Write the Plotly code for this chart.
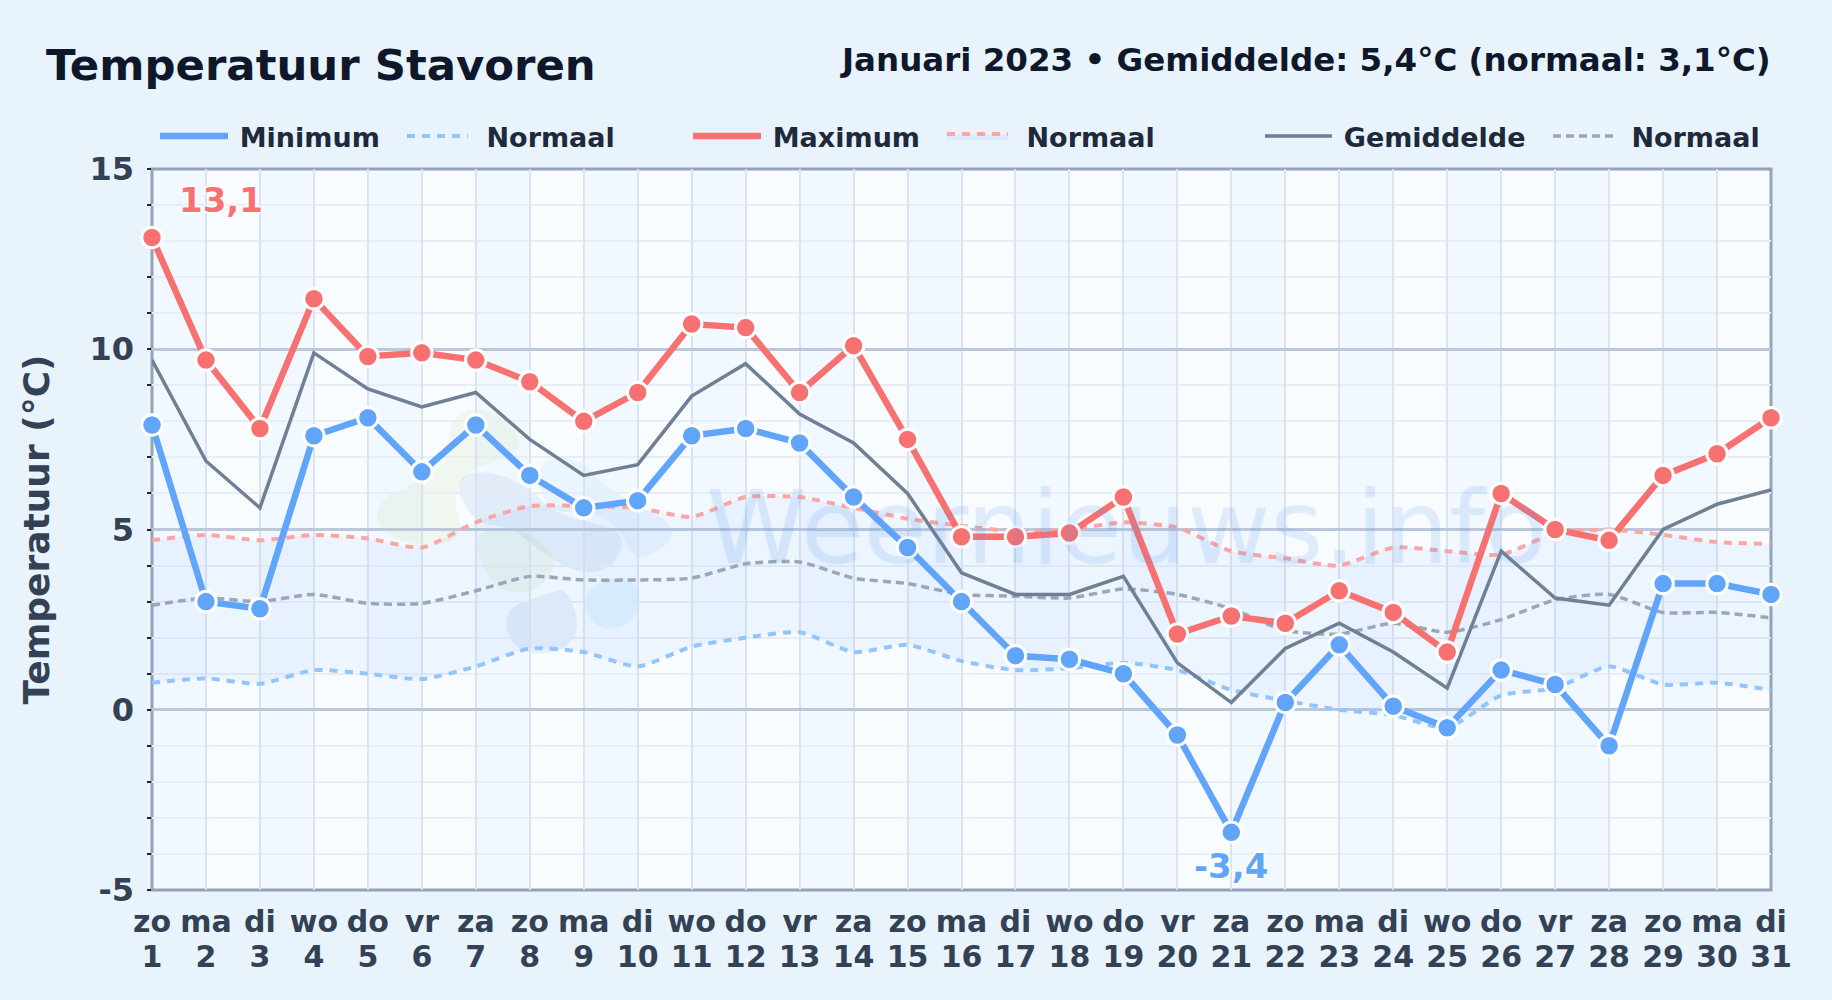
import plotly.graph_objects as go

days = list(range(1, 32))
weekdays = ["zo","ma","di","wo","do","vr","za"] * 4 + ["zo","ma","di"]
t_min = [7.9,3.0,2.8,7.6,8.1,6.6,7.9,6.5,5.6,5.8,7.6,7.8,7.4,5.9,4.5,3.0,1.5,1.4,1.0,-0.7,-3.4,0.2,1.8,0.1,-0.5,1.1,0.7,-1.0,3.5,3.5,3.2]
t_max = [13.1,9.7,7.8,11.4,9.8,9.9,9.7,9.1,8.0,8.8,10.7,10.6,8.8,10.1,7.5,4.8,4.8,4.9,5.9,2.1,2.6,2.4,3.3,2.7,1.6,6.0,5.0,4.7,6.5,7.1,8.1]
t_mean = [9.7,6.9,5.6,9.9,8.9,8.4,8.8,7.5,6.5,6.8,8.7,9.6,8.2,7.4,6.0,3.8,3.2,3.2,3.7,1.3,0.2,1.7,2.4,1.6,0.6,4.4,3.1,2.9,5.0,5.7,6.1]
n_min = [0.75,0.87,0.72,1.1,1.0,0.85,1.2,1.7,1.6,1.2,1.75,2.0,2.15,1.6,1.8,1.35,1.1,1.15,1.3,1.1,0.55,0.25,0.0,-0.15,-0.5,0.4,0.6,1.2,0.7,0.75,0.55]
n_max = [4.7,4.85,4.7,4.85,4.75,4.5,5.2,5.65,5.65,5.6,5.35,5.9,5.9,5.6,5.3,5.1,4.95,5.0,5.2,5.05,4.4,4.2,4.0,4.5,4.4,4.3,4.9,5.0,4.85,4.65,4.6]
n_mean = [2.9,3.1,3.0,3.2,2.95,2.95,3.3,3.7,3.6,3.6,3.65,4.05,4.1,3.65,3.5,3.2,3.15,3.1,3.35,3.2,2.8,2.2,2.1,2.4,2.15,2.5,3.05,3.2,2.7,2.7,2.55]
y_ticks = [-5, 0, 5, 10, 15]

W, H = 1832, 1000
L, R, T, B = 152, 1771, 169, 890
BLUE, RED, SLATE = "#60a5fa", "#f87171", "#6f7f94"
N_BLUE, N_RED, N_SLATE = "#93c5fd", "#fca5a5", "#9aa7b8"
FONT = "DejaVu Sans"

fig = go.Figure()

def line(y, name, color, width, legend, dash=None, smooth=False, **kw):
    fig.add_trace(go.Scatter(
        x=days, y=y, name=name, mode="lines", legend=legend, hoverinfo="skip", cliponaxis=False,
        line=dict(color=color, width=width, dash=dash, shape="spline" if smooth else "linear",
                  smoothing=0.6 if smooth else None), **kw))

def dots(y, color, xaxis="x"):
    fig.add_trace(go.Scatter(
        x=days, y=y, mode="markers", showlegend=False, cliponaxis=False, xaxis=xaxis,
        marker=dict(size=20.5, color=color, line=dict(color="white", width=3))))

line(n_min, "\u2005\u2005Normaal", N_BLUE, 4, "legend2", dash="8px,7px", smooth=True)
line(n_max, "\u2005\u2005Normaal", N_RED, 4, "legend4", dash="8px,7px", smooth=True,
     fill="tonexty", fillcolor="rgba(96,165,250,0.075)")
line(n_mean, "\u00a0Normaal", N_SLATE, 3.5, "legend6", dash="8px,5px", smooth=True)
line(t_mean, "\u2005Gemiddelde", SLATE, 3.5, "legend5")
line(t_max, "\u2005Maximum", RED, 6.5, "legend3")
line(t_min, "\u2005Minimum", BLUE, 6.5, "legend")
dots(t_max, RED)
dots(t_min, BLUE, xaxis="x2")

def px_x(v): return (v - L) / (R - L)
def px_y(v): return (B - v) / (B - T)

# alternating day bands
for d in days[:-1:2]:
    fig.add_shape(type="rect", xref="x", yref="paper", x0=d, x1=d + 1, y0=0, y1=1, layer="below",
                  line_width=0, fillcolor="rgba(191,219,254,0.10)")

# watermark logo blobs (crop pixel outlines)
blobs = [
    ("rgba(180,215,130,0.13)", [(30,280),(50,230),(130,195),(240,130),(235,40),(270,-15),(350,-20),(440,60),(420,110),(290,150),(245,230),(280,330),(200,370),(70,340)]),
    ("rgba(180,215,130,0.13)", [(320,340),(450,330),(545,400),(545,450),(490,510),(400,510),(345,450)]),
    ("rgba(90,140,200,0.11)", [(275,210),(300,170),(380,165),(480,210),(560,290),(720,320),(745,370),(700,440),(610,450),(500,380),(430,320),(330,310)]),
    ("rgba(110,190,245,0.10)", [(510,190),(540,120),(640,130),(700,200),(780,250),(900,310),(880,370),(800,410),(770,380),(740,310),(640,270),(560,280)]),
    ("rgba(90,140,200,0.11)", [(410,610),(430,560),(530,530),(580,510),(620,600),(600,670),(520,700),(440,680)]),
    ("rgba(110,190,245,0.13)", [(640,540),(700,480),(790,480),(810,560),(760,620),(680,620)]),
]
for color, pts in blobs:
    cx = sum(a for a, _ in pts) / len(pts)
    cy = sum(b for _, b in pts) / len(pts)
    P = [(px_x(370 + (cx + (a - cx) * 1.08) / 3), px_y(420 + (cy + (b - cy) * 1.08) / 3)) for a, b in pts]
    n = len(P)
    mid = lambda i: ((P[i][0] + P[(i + 1) % n][0]) / 2, (P[i][1] + P[(i + 1) % n][1]) / 2)
    m0 = mid(n - 1)
    path = f"M{m0[0]:.5f},{m0[1]:.5f}"
    for i in range(n):
        m = mid(i)
        path += f" Q{P[i][0]:.5f},{P[i][1]:.5f} {m[0]:.5f},{m[1]:.5f}"
    fig.add_shape(type="path", xref="paper", yref="paper", path=path + " Z", layer="below",
                  line_width=0, fillcolor=color)

# plot frame, centred on the plot edges
fig.add_shape(type="rect", xref="paper", yref="paper", x0=0, x1=1, y0=0, y1=1, layer="between",
              line=dict(color="#94a3b8", width=3), fillcolor="rgba(0,0,0,0)")

fig.add_annotation(text="Weernieuws.info", xref="paper", yref="paper", x=px_x(1126), y=px_y(527),
                   showarrow=False, font=dict(family=FONT, size=102, color="rgba(85,150,225,0.14)",
                                              shadow="0 0 4px rgba(96,165,250,0.18)"))

outline = "0 0 2px #fff, 0 0 2px #fff, 0 0 3px #fff, 0 0 3px #fff, 1px 1px 2px #fff, -1px -1px 2px #fff, 1px -1px 2px #fff, -1px 1px 2px #fff"
i_hi = t_max.index(max(t_max))
i_lo = t_min.index(min(t_min))
fig.add_annotation(text=f"{t_max[i_hi]:.1f}".replace(".", ","), x=days[i_hi], y=t_max[i_hi], showarrow=False,
                   xshift=69, yshift=38, font=dict(family=FONT, size=34, color=RED, weight="bold", shadow=outline))
fig.add_annotation(text=f"{t_min[i_lo]:.1f}".replace(".", ","), x=days[i_lo], y=t_min[i_lo], showarrow=False,
                   xshift=0, yshift=-34, font=dict(family=FONT, size=34, color=BLUE, weight="bold", shadow=outline))

fig.add_annotation(text="Januari 2023 • Gemiddelde: 5,4°C (normaal: 3,1°C)", xref="paper", yref="paper",
                   x=1, xanchor="right", xshift=2, y=px_y(60), yanchor="middle", showarrow=False,
                   font=dict(family=FONT, size=32.5, color="#0f172a", weight="bold"))

def legend_at(x_px, item):
    return dict(x=px_x(x_px), y=px_y(136.5), xanchor="left", yanchor="middle", orientation="h",
                bgcolor="rgba(0,0,0,0)", borderwidth=0, itemwidth=item, itemclick=False,
                font=dict(family=FONT, size=27, color="#1e293b", weight="bold"))

axis_range = [1, 31]
fig.update_layout(
    width=W, height=H, margin=dict(l=L, r=W - R, t=T, b=H - B, pad=0),
    paper_bgcolor="#e8f3fc", plot_bgcolor="#f9fcff", hovermode=False,
    font=dict(family=FONT),
    title=dict(text="Temperatuur Stavoren", xref="container", yref="container", x=46 / W, xanchor="left",
               y=1 - 65 / H, yanchor="middle", font=dict(family=FONT, size=43.4, color="#0f172a", weight="bold")),
    legend=legend_at(155, 68), legend2=legend_at(402, 61), legend3=legend_at(688, 68),
    legend4=legend_at(942, 61), legend5=legend_at(1260, 67), legend6=legend_at(1548, 64),
    xaxis=dict(range=axis_range, tickmode="array", tickvals=days, ticktext=[str(d) for d in days],
               showgrid=True, gridcolor="#dde3ee", gridwidth=2, zeroline=False,
               showline=False, ticks="", ticklabelstandoff=46,
               tickfont=dict(family=FONT, size=30, color="#334155", weight="bold")),
    xaxis2=dict(range=axis_range, overlaying="x", anchor="y", side="bottom", tickmode="array", tickvals=days,
                ticktext=weekdays, showgrid=False, zeroline=False, showline=False, ticks="", ticklabelstandoff=11,
                tickfont=dict(family=FONT, size=30, color="#334155", weight="bold")),
    yaxis=dict(range=[-5, 15], tickmode="array", tickvals=y_ticks, ticktext=[str(v) for v in y_ticks],
               showgrid=True, gridcolor="#bcc8d9", gridwidth=2.5, zeroline=False, layer="below traces",
               showline=False, ticks="", ticklabelstandoff=17,
               tickfont=dict(family=FONT, size=32, color="#334155", weight="bold"),
               minor=dict(dtick=1, tick0=0, showgrid=True, gridcolor="#e8edf4", gridwidth=2,
                          ticks="outside", ticklen=4, tickwidth=1.5, tickcolor="#222222"),
               title=dict(text="Temperatuur (°C)", standoff=28,
                          font=dict(family=FONT, size=36, color="#334155", weight="bold"))),
)

fig.write_html("out.html", config={"displayModeBar": False},
               post_script="document.body.style.margin='0';document.body.style.background='#e8f3fc';")
